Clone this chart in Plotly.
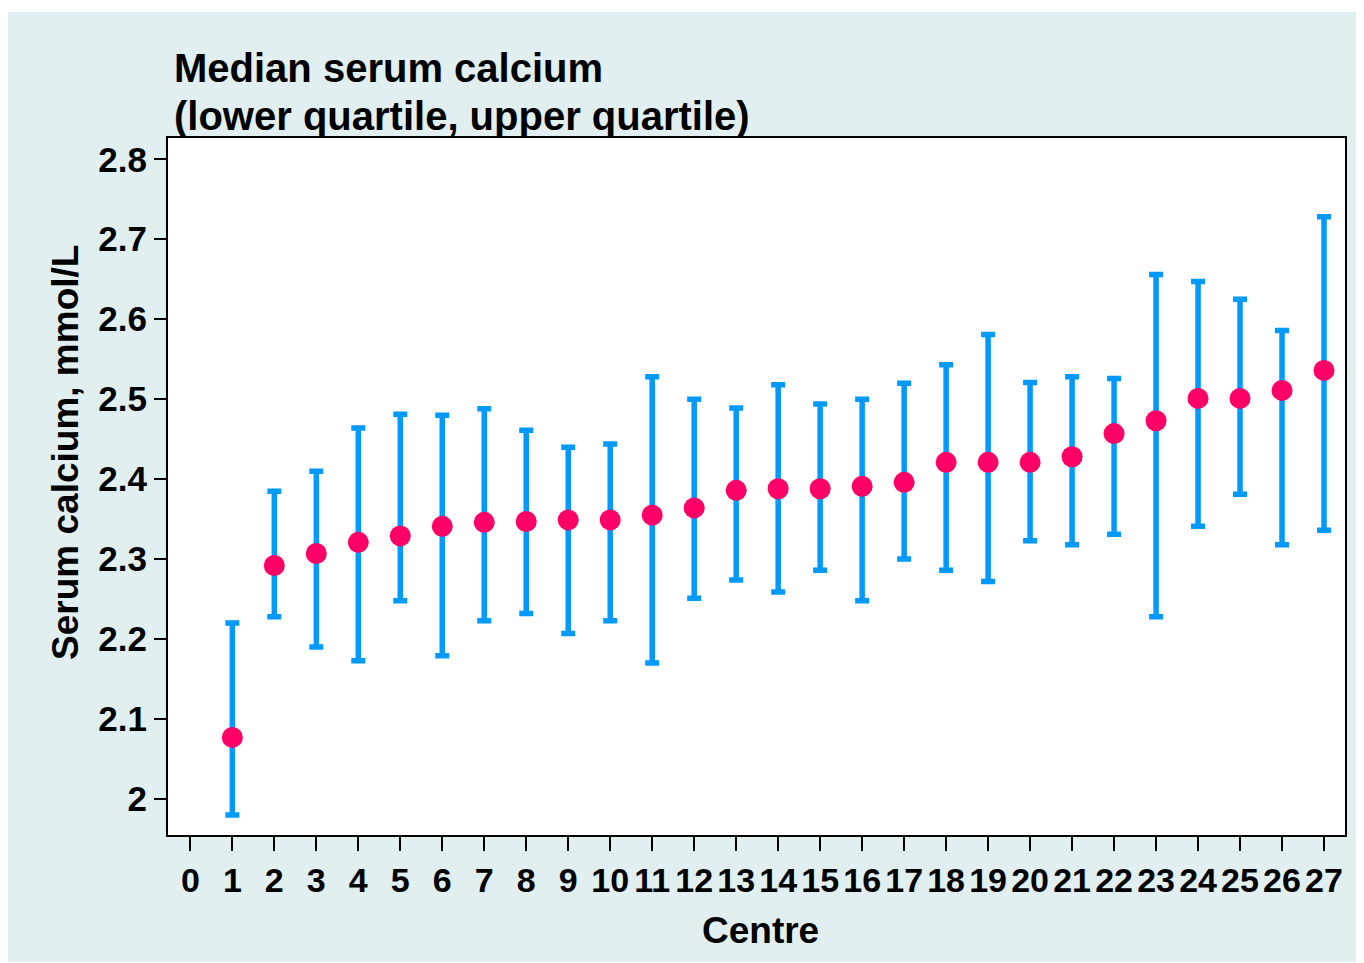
import plotly.graph_objects as go

# Values
centre = list(range(1, 28))
median = [2.077, 2.292, 2.307, 2.321, 2.329, 2.341, 2.346, 2.347, 2.349, 2.349,
          2.355, 2.364, 2.386, 2.388, 2.388, 2.391, 2.396, 2.421, 2.421, 2.421,
          2.428, 2.457, 2.473, 2.501, 2.501, 2.511, 2.536]
lower_q = [1.980, 2.228, 2.190, 2.173, 2.248, 2.179, 2.223, 2.232, 2.207, 2.223,
           2.170, 2.251, 2.274, 2.259, 2.286, 2.248, 2.300, 2.286, 2.272, 2.323,
           2.318, 2.331, 2.228, 2.341, 2.381, 2.318, 2.336]
upper_q = [2.220, 2.385, 2.410, 2.464, 2.481, 2.480, 2.488, 2.461, 2.440, 2.444,
           2.528, 2.500, 2.489, 2.518, 2.494, 2.500, 2.520, 2.543, 2.581, 2.521,
           2.528, 2.526, 2.656, 2.647, 2.625, 2.586, 2.728]
x_ticks = list(range(0, 28))
y_ticks = [2.0, 2.1, 2.2, 2.3, 2.4, 2.5, 2.6, 2.7, 2.8]
y_tick_text = ["2", "2.1", "2.2", "2.3", "2.4", "2.5", "2.6", "2.7", "2.8"]

FONT = "Liberation Sans, Arial, sans-serif"
BG = "#e1eff0"

err_plus = [u - m for u, m in zip(upper_q, median)]
err_minus = [m - l for m, l in zip(median, lower_q)]

fig = go.Figure()

fig.add_trace(
    go.Scatter(
        x=centre,
        y=median,
        mode="markers",
        marker=dict(size=21, color="#ff0066"),
        error_y=dict(
            type="data",
            symmetric=False,
            array=err_plus,
            arrayminus=err_minus,
            color="#0099ff",
            thickness=5.5,
            width=7,
        ),
        showlegend=False,
    )
)

axis_common = dict(
    showline=True,
    linecolor="black",
    linewidth=2,
    mirror=True,
    showgrid=False,
    zeroline=False,
    ticks="outside",
    tickwidth=1.5,
    tickcolor="black",
)

fig.update_xaxes(
    range=[-0.532, 27.5],
    tickmode="array",
    tickvals=x_ticks,
    ticklen=14,
    tickfont=dict(family=FONT, size=34, color="black", weight="bold"),
    **axis_common,
)
fig.update_yaxes(
    range=[1.955, 2.8266],
    tickmode="array",
    tickvals=y_ticks,
    ticktext=y_tick_text,
    ticklen=12,
    tickfont=dict(family=FONT, size=35, color="black", weight="bold"),
    **axis_common,
)

title_font = dict(family=FONT, size=40, color="black", weight="bold")
axis_title_font = dict(family=FONT, size=37, color="black", weight="bold")

# the page body adds an 8px offset, so the figure is 8px smaller on each axis
fig.update_layout(
    width=1356,
    height=955,
    margin=dict(l=160, r=19, t=130, b=128),
    paper_bgcolor="white",
    plot_bgcolor="white",
    shapes=[
        # light cyan panel behind everything
        dict(type="rect", xref="paper", yref="paper", x0=-0.1359, x1=1.0127,
             y0=-0.1822, y1=1.1808, fillcolor=BG, line=dict(width=0), layer="below"),
        # white plotting area
        dict(type="rect", xref="paper", yref="paper", x0=0, x1=1, y0=0, y1=1,
             fillcolor="white", line=dict(width=0), layer="below"),
    ],
    annotations=[
        dict(text="Median serum calcium", xref="paper", yref="paper",
             x=0.0034, y=1.1004, xanchor="left", yanchor="middle",
             showarrow=False, font=title_font),
        dict(text="(lower quartile, upper quartile)", xref="paper", yref="paper",
             x=0.0034, y=1.0316, xanchor="left", yanchor="middle",
             showarrow=False, font=title_font),
        dict(text="Serum calcium, mmol/L", xref="paper", yref="paper",
             x=-0.0867, y=0.5495, xanchor="center", yanchor="middle",
             textangle=-90, showarrow=False, font=axis_title_font),
        dict(text="Centre", xref="paper", yref="paper",
             x=0.503, y=-0.1363, xanchor="center", yanchor="middle",
             showarrow=False, font=axis_title_font),
    ],
)

fig.write_html("out.html")
